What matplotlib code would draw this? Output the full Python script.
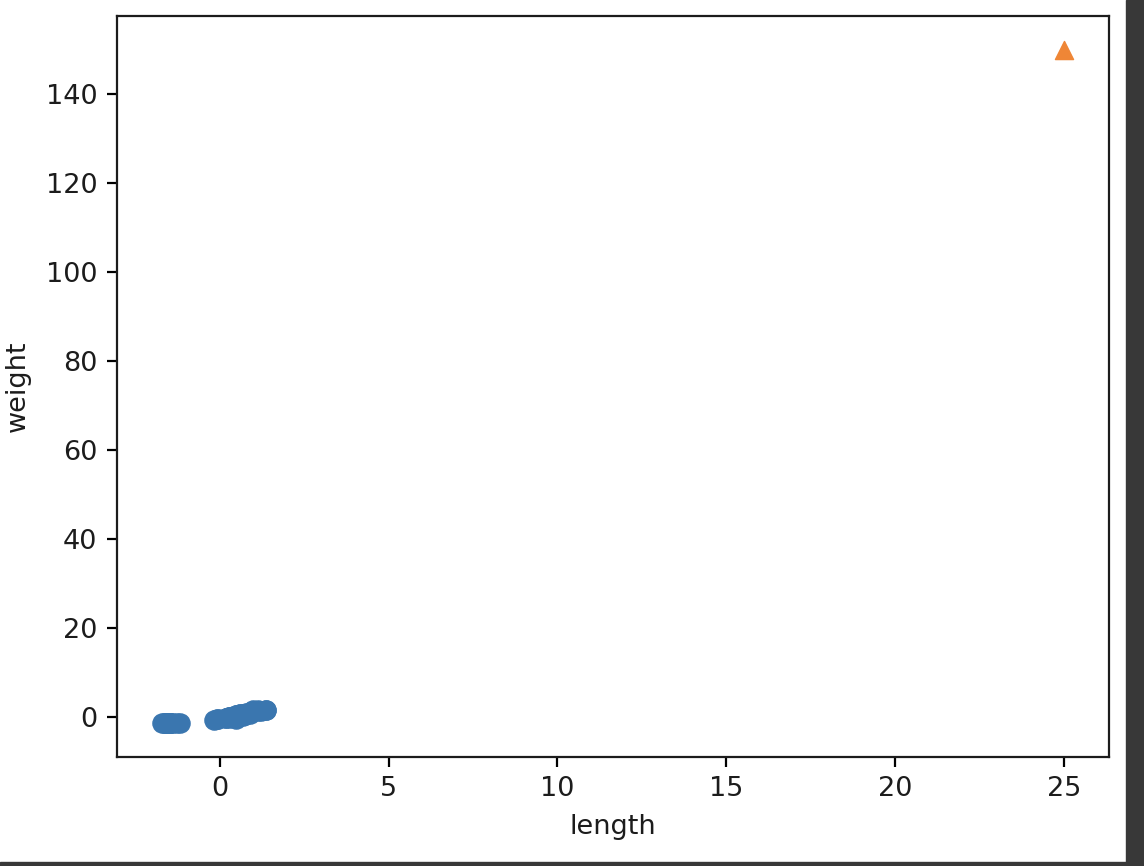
import matplotlib.pyplot as plt
from matplotlib.patches import Rectangle

# standardized training samples (length, weight)
length_scaled = [-0.16, -0.08, -0.06, 0.19, 0.19, 0.26, 0.26, 0.29, 0.29, 0.36,
                 0.39, 0.39, 0.44, 0.49, 0.49, 0.49, 0.59, 0.59, 0.64, 0.64,
                 0.69, 0.69, 0.74, 0.78, 0.78, 0.78, 0.78, 0.88, 0.88, 0.98,
                 1.13, 1.13, 1.23, 1.38, 1.38,
                 -1.71, -1.64, -1.63, -1.59, -1.57, -1.56, -1.51, -1.51, -1.49,
                 -1.47, -1.45, -1.39, -1.26, -1.19]
weight_scaled = [-0.62, -0.48, -0.32, -0.25, -0.05, 0.02, 0.17, -0.17, 0.02, 0.17,
                 0.09, 0.17, 0.17, -0.32, 0.48, 0.48, 0.79, 0.79, 0.51, 0.63,
                 0.40, 0.74, 0.54, 0.73, 0.79, 0.86, 0.85, 0.83, 1.25, 1.71,
                 1.46, 1.57, 1.48, 1.63, 1.56,
                 -1.35, -1.35, -1.35, -1.34, -1.34, -1.34, -1.34, -1.34, -1.34,
                 -1.33, -1.33, -1.33, -1.31, -1.31]

# new sample, not scaled
new_length = 25
new_weight = 150

plt.rcParams['font.size'] = 19.5
plt.rcParams['text.color'] = '#1c1c1c'
plt.rcParams['xtick.labelcolor'] = '#1c1c1c'
plt.rcParams['ytick.labelcolor'] = '#1c1c1c'
plt.rcParams['axes.labelcolor'] = '#1c1c1c'
plt.rcParams['axes.edgecolor'] = '#1c1c1c'
plt.rcParams['axes.linewidth'] = 1.6
plt.rcParams['xtick.major.size'] = 7
plt.rcParams['ytick.major.size'] = 7
plt.rcParams['xtick.major.width'] = 1.6
plt.rcParams['ytick.major.width'] = 1.6
plt.rcParams['xtick.major.pad'] = 7
plt.rcParams['ytick.major.pad'] = 7

fig = plt.figure(figsize=(11.44, 8.66), dpi=100)
ax = fig.add_axes([117 / 1144, 109 / 866, 992 / 1144, 741 / 866])

ax.scatter(length_scaled, weight_scaled, s=190, color='#3a76af')
ax.scatter(new_length, new_weight, marker='^', s=170, color='#ef8636')
ax.set_xlabel('length', labelpad=8)
ax.set_ylabel('weight', labelpad=11)

# dark notebook frame around the screenshot
fig.patches.append(Rectangle((1126 / 1144, 0), 18 / 1144, 1, transform=fig.transFigure,
                             color='#383838', zorder=-1))
fig.patches.append(Rectangle((0, 0), 1, 4 / 866, transform=fig.transFigure,
                             color='#383838', zorder=-1))

fig.savefig('out.png', dpi=100)
